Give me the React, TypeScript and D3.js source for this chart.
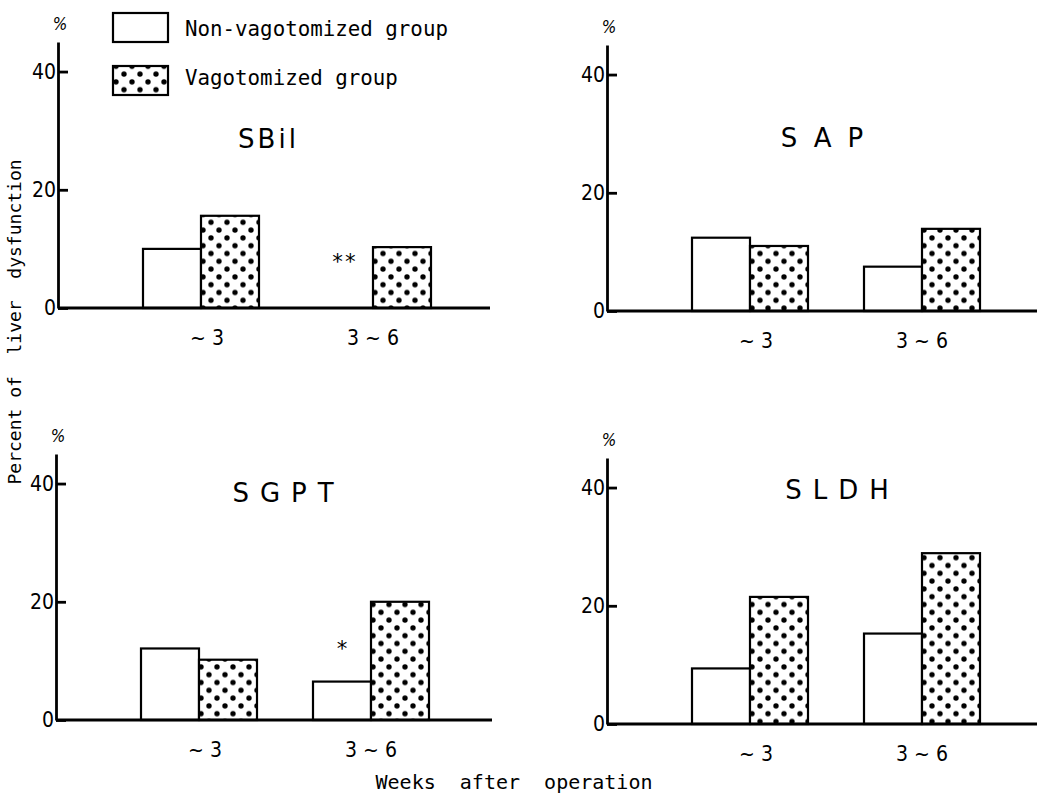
import React from "react";
import * as d3 from "d3";

// weeks after operation
const groups = ["~ 3", "3 ~ 6"];
const seriesNames = ["Non-vagotomized group", "Vagotomized group"];
const panelTitles = ["SBil", "SAP", "SGPT", "SLDH"];
// percent of liver dysfunction, per panel: [~3, 3~6]
const nonVagotomized = [
  [10, 0],
  [12.4, 7.5],
  [12.1, 6.5],
  [9.4, 15.3],
];
const vagotomized = [
  [15.6, 10.3],
  [11, 13.9],
  [10.2, 20],
  [21.5, 28.9],
];
const significance = [
  ["", "**"],
  ["", ""],
  ["", "*"],
  ["", ""],
];
const yTicks = [0, 20, 40];

// where each panel sits on the page (axis origin, axis end, title spacing)
const panels = [
  { ax: 58, zero: 308, end: 490, titleY: 148, titleX: 267, spacing: 3 },
  { ax: 607, zero: 311, end: 1037, titleY: 147, titleX: 822, spacing: 16 },
  { ax: 56, zero: 720, end: 492, titleY: 502, titleX: 283, spacing: 11 },
  { ax: 607, zero: 724, end: 1037, titleY: 499, titleX: 837, spacing: 11 },
];

const mono = "'DejaVu Sans Mono', 'Liberation Mono', monospace";
const narrow = "'Liberation Sans Narrow', 'DejaVu Sans Condensed', 'Liberation Sans', sans-serif";

const App = () => {
  const ref = React.useRef(null);

  React.useEffect(() => {
    const svg = d3.select(ref.current);
    svg.selectAll("*").remove();

    const defs = svg.append("defs");
    const pat = defs
      .append("pattern")
      .attr("id", "dots")
      .attr("patternUnits", "userSpaceOnUse")
      .attr("width", 16)
      .attr("height", 15.6);
    pat.append("rect").attr("width", 16).attr("height", 15.6).attr("fill", "#fff");
    pat.append("circle").attr("cx", 4).attr("cy", 4).attr("r", 2.7).attr("fill", "#000");
    pat.append("circle").attr("cx", 12).attr("cy", 11.8).attr("r", 2.7).attr("fill", "#000");

    const fills = ["#fff", "url(#dots)"];

    panels.forEach((p, i) => {
      const g = svg.append("g");

      const y = d3.scaleLinear().domain([0, 45]).range([p.zero, p.zero - 266]);

      const x0 = d3
        .scaleBand()
        .domain(groups)
        .range([p.ax + 85, p.ax + 85 + 172 + 116])
        .paddingInner(56 / 172)
        .paddingOuter(0);

      const x1 = d3.scaleBand().domain(seriesNames).range([0, x0.bandwidth()]);

      const rows = groups.map((grp, gi) => ({
        grp,
        vals: [nonVagotomized[i][gi], vagotomized[i][gi]],
        mark: significance[i][gi],
      }));

      // bars
      g.append("g")
        .selectAll("g")
        .data(rows)
        .join("g")
        .attr("transform", (d) => `translate(${x0(d.grp)},0)`)
        .selectAll("rect")
        .data((d) => d.vals.map((v, si) => ({ v, si })))
        .join("rect")
        .attr("x", (d) => x1(seriesNames[d.si]))
        .attr("y", (d) => y(d.v))
        .attr("width", x1.bandwidth())
        .attr("height", (d) => y(0) - y(d.v))
        .attr("fill", (d) => fills[d.si])
        .attr("stroke", "#000")
        .attr("stroke-width", 2.2);

      // significance marks
      g.append("g")
        .selectAll("text")
        .data(rows.filter((d) => d.mark))
        .join("text")
        .attr("x", (d) => x0(d.grp) + x1(seriesNames[0]) + x1.bandwidth() / 2)
        .attr("y", (d) => y(Math.max(d.vals[0], 2.2)) - 33)
        .attr("dominant-baseline", "central")
        .attr("text-anchor", "middle")
        .attr("font-family", mono)
        .attr("font-size", 21)
        .text((d) => d.mark);

      // x axis
      g.append("line")
        .attr("x1", p.ax)
        .attr("x2", p.end)
        .attr("y1", y(0))
        .attr("y2", y(0))
        .attr("stroke", "#000")
        .attr("stroke-width", 2.8);

      const xAxis = g
        .append("g")
        .attr("transform", `translate(0,${y(0)})`)
        .call(d3.axisBottom(x0).tickSize(0).tickPadding(22));
      xAxis.select(".domain").remove();
      xAxis
        .selectAll("text")
        .attr("font-family", narrow)
        .attr("font-size", 21)
        .attr("fill", "#000")
        .attr("dx", (d) => (d === groups[0] ? 6 : 0));

      // y axis
      const yAxis = g
        .append("g")
        .attr("transform", `translate(${p.ax},0)`)
        .call(
          d3
            .axisLeft(y)
            .tickValues(yTicks)
            .tickSize(-10)
            .tickSizeOuter(0)
            .tickPadding(2)
        );
      yAxis.select(".domain").attr("stroke-width", 2.8);
      yAxis.selectAll(".tick line").attr("stroke-width", 2.8);
      yAxis
        .selectAll("text")
        .attr("font-family", narrow)
        .attr("font-size", 21)
        .attr("fill", "#000");

      g.append("text")
        .attr("x", p.ax + 2)
        .attr("y", y(45) - 12)
        .attr("text-anchor", "middle")
        .attr("font-family", narrow)
        .attr("font-size", 17)
        .attr("font-style", "italic")
        .text("%");

      // panel title
      g.append("text")
        .attr("x", p.titleX + p.spacing / 2)
        .attr("y", p.titleY)
        .attr("text-anchor", "middle")
        .attr("font-family", "'DejaVu Sans', sans-serif")
        .attr("font-size", 26)
        .attr("letter-spacing", p.spacing)
        .text(panelTitles[i]);
    });

    // legend
    const legend = svg.append("g");
    seriesNames.forEach((name, si) => {
      legend
        .append("rect")
        .attr("x", 113)
        .attr("y", 13 + si * 53)
        .attr("width", 55)
        .attr("height", 29)
        .attr("fill", fills[si])
        .attr("stroke", "#000")
        .attr("stroke-width", 2.2);
      legend
        .append("text")
        .attr("x", 185)
        .attr("y", 36 + si * 49)
        .attr("font-family", mono)
        .attr("font-size", 20.8)
        .text(name);
    });

    // shared axis titles
    svg
      .append("text")
      .attr("transform", "translate(21,322) rotate(-90)")
      .attr("text-anchor", "middle")
      .attr("font-family", mono)
      .attr("font-size", 18)
      .style("white-space", "pre")
      .text("Percent of  liver  dysfunction");

    svg
      .append("text")
      .attr("x", 514)
      .attr("y", 789)
      .attr("text-anchor", "middle")
      .attr("font-family", mono)
      .attr("font-size", 20)
      .style("white-space", "pre")
      .text("Weeks  after  operation");
  }, []);

  return (
    <svg
      ref={ref}
      width={1050}
      height={797}
      style={{ position: "absolute", left: 0, top: 0, background: "#fff" }}
    ></svg>
  );
};

export default App;
